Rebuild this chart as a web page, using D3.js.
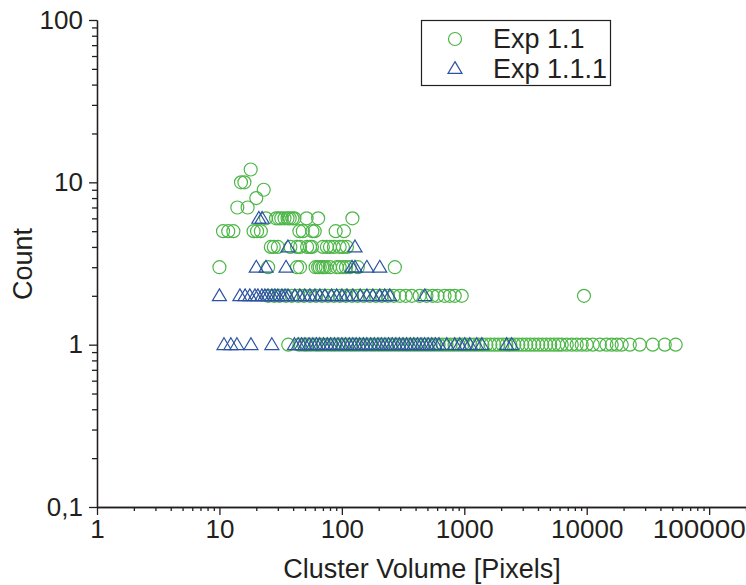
<!DOCTYPE html>
<html>
<head>
<meta charset="utf-8">
<script src="https://cdn.jsdelivr.net/npm/d3@7/dist/d3.min.js"></script>
<style>
  html, body { margin: 0; padding: 0; background: #fff; }
  svg { display: block; }
  text { font-family: "Liberation Sans", Arial, Helvetica, sans-serif; fill: #231f20; }
</style>
</head>
<body>
<svg id="chart" width="746" height="585"></svg>
<script>
// ---------------- DATA ----------------
const seriesNames = ["Exp 1.1", "Exp 1.1.1"];
const xTickValues = [1, 10, 100, 1000, 10000, 100000];
const xTickLabels = ["1", "10", "100", "1000", "10000", "100000"];
const yTickValues = [0.1, 1, 10, 100];
const yTickLabels = ["0,1", "1", "10", "100"];
const xTitle = "Cluster Volume [Pixels]";
const yTitle = "Count";

// Exp 1.1 (circles): cluster volumes grouped by count
const exp11_count12 = [18];
const exp11_count10 = [15, 16];
const exp11_count9 = [23];
const exp11_count8 = [20];
const exp11_count7 = [14, 17];
const exp11_count6 = [24, 29, 30.5, 32, 34, 36, 37.5, 39.5, 41, 51.5, 64, 122];
const exp11_count5 = [10.7, 11.8, 13, 19, 20.3, 21.8, 45, 48, 57.5, 60, 89, 104];
const exp11_count4 = [26.3, 27.8, 30, 38, 43, 45.5, 52, 55, 57, 70, 75.5, 80, 86, 96, 102, 110];
const exp11_count3 = [10, 25, 43, 45.5, 61, 64, 66, 69, 71, 74, 80, 91, 96, 102, 108, 116, 135, 271];
const exp11_count2 = [25, 28, 31, 35, 39, 44, 49, 55, 61.5, 69, 77, 86, 96.5, 108, 121, 135, 151, 169, 190, 212,
  238, 266, 298, 333, 373, 432, 491, 552, 605, 690, 760, 836, 953, 9500];
const exp11_count1 = [36.5, 45, 49, 52, 56, 61, 65, 70, 76, 82, 88, 95, 102, 110, 119, 128, 138, 149, 160, 173,
  186, 201, 216, 233, 251, 271, 292, 315, 339, 365, 394, 424, 457, 493, 531, 572, 617, 665, 716, 772,
  832, 897, 967, 1042, 1123, 1211, 1305, 1407, 1516, 1634, 1762, 1899, 2047, 2206, 2378, 2564, 2763, 2979,
  3211, 3461, 3731, 4021, 4335, 4673, 5037, 5430, 5853, 6250, 6870, 7550, 8280, 9100, 10000, 11200, 12800,
  14500, 16000, 17600, 19300, 22500, 27100, 34600, 43400, 53300];

// Exp 1.1.1 (triangles): cluster volumes grouped by count
const exp111_count6 = [21, 22.3];
const exp111_count4 = [36.3, 128];
const exp111_count3 = [20, 24, 35, 121, 128, 160, 204];
const exp111_count2 = [10, 14.7, 16.2, 17.7, 19.5, 20.6, 22.2, 23.5, 24.9, 26.8, 28.4, 30, 32.4, 34.3, 36.3,
  41.3, 45.4, 49.8, 54.8, 60.2, 66.1, 72.7, 82.4, 90.6, 100, 110, 123, 141, 160, 179, 204, 224, 246, 476];
const exp111_count1 = [10.9, 12.4, 13.9, 18.1, 26.8, 41, 44, 47, 50, 54, 58, 62, 66, 71, 76, 81, 87, 93, 100,
  107, 115, 123, 131, 140, 150, 160, 172, 184, 197, 210, 225, 241, 258, 276, 295, 316, 338, 362, 387, 414,
  443, 474, 507, 543, 581, 622, 720, 836, 919, 1009, 1108, 1265, 1390, 2220, 2440];

// ---------------- BUILD POINT TABLES ----------------
function rows(pairs) {
  const out = [];
  pairs.forEach(([count, vols]) => vols.forEach(v => out.push({ v: v, c: count })));
  return out;
}
const exp11 = rows([[12, exp11_count12], [10, exp11_count10], [9, exp11_count9], [8, exp11_count8],
  [7, exp11_count7], [6, exp11_count6], [5, exp11_count5], [4, exp11_count4], [3, exp11_count3],
  [2, exp11_count2], [1, exp11_count1]]);
const exp111 = rows([[6, exp111_count6], [4, exp111_count4], [3, exp111_count3],
  [2, exp111_count2], [1, exp111_count1]]);

// ---------------- DRAW ----------------
const green = "#4db648";
const blue = "#2c52a2";
const axisColor = "#231f20";

const svg = d3.select("#chart");
const x = d3.scaleLog().domain([1, 200000]).range([97, 746]);
const y = d3.scaleLog().domain([0.1, 100]).range([507, 20]);

function minorTicks(lo, hi) {
  const t = [];
  for (let d = lo; d < hi; d *= 10) for (let k = 2; k <= 9; k++) if (d * k <= hi) t.push(d * k);
  return t;
}

// X axis
const xMajor = d3.axisBottom(x).tickValues(xTickValues)
  .tickFormat((d, i) => xTickLabels[i]).tickSize(8).tickSizeOuter(0).tickPadding(5);
const xMinor = d3.axisBottom(x).tickValues(minorTicks(1, 200000)).tickFormat("").tickSize(4).tickSizeOuter(0);
const gxMinor = svg.append("g").attr("transform", "translate(0,507)").call(xMinor);
const gx = svg.append("g").attr("transform", "translate(0,507)").call(xMajor);

// Y axis
const yMajor = d3.axisLeft(y).tickValues(yTickValues)
  .tickFormat((d, i) => yTickLabels[i]).tickSize(8).tickSizeOuter(0).tickPadding(6);
const yMinor = d3.axisLeft(y).tickValues(minorTicks(0.1, 100)).tickFormat("").tickSize(5).tickSizeOuter(0);
const gyMinor = svg.append("g").attr("transform", "translate(97,0)").call(yMinor);
const gy = svg.append("g").attr("transform", "translate(97,0)").call(yMajor);

[gx, gy, gxMinor, gyMinor].forEach(g => {
  g.selectAll("path, line").attr("stroke", axisColor).attr("stroke-width", 1.3);
  g.selectAll("text").attr("font-size", 26).attr("fill", axisColor)
    .style("font-family", "'Liberation Sans', Arial, sans-serif");
});
// keep the last x label inside the picture (it ends at the right edge in the reference)
gx.selectAll(".tick text").filter(d => d === 100000)
  .attr("text-anchor", "end").attr("x", 36).attr("textLength", 93).attr("lengthAdjust", "spacingAndGlyphs");

// Axis titles
svg.append("text").attr("x", 422).attr("y", 578).attr("text-anchor", "middle")
  .attr("font-size", 27).text(xTitle);
svg.append("text").attr("transform", "translate(32,264) rotate(-90)").attr("text-anchor", "middle")
  .attr("font-size", 27).text(yTitle);

// Markers
const triPath = "M0,-6.4L7,5.4L-7,5.4Z";
const plot = svg.append("g");
plot.selectAll("circle.e11").data(exp11).join("circle").attr("class", "e11")
  .attr("cx", d => x(d.v)).attr("cy", d => y(d.c)).attr("r", 6.5)
  .attr("fill", "none").attr("stroke", green).attr("stroke-width", 1.2);
plot.selectAll("path.e111").data(exp111).join("path").attr("class", "e111")
  .attr("d", triPath).attr("transform", d => `translate(${x(d.v)},${y(d.c) - 0.5})`)
  .attr("fill", "none").attr("stroke", blue).attr("stroke-width", 1.2);

// Legend
const lg = svg.append("g");
lg.append("rect").attr("x", 421.5).attr("y", 20.5).attr("width", 189).attr("height", 65)
  .attr("fill", "#fff").attr("stroke", axisColor).attr("stroke-width", 1.2);
lg.append("circle").attr("cx", 455).attr("cy", 39).attr("r", 6.5)
  .attr("fill", "none").attr("stroke", green).attr("stroke-width", 1.2);
lg.append("path").attr("d", triPath).attr("transform", "translate(455,68)")
  .attr("fill", "none").attr("stroke", blue).attr("stroke-width", 1.2);
lg.append("text").attr("x", 493).attr("y", 48).attr("font-size", 27).text(seriesNames[0]);
lg.append("text").attr("x", 493).attr("y", 78).attr("font-size", 27).text(seriesNames[1]);
</script>
</body>
</html>
